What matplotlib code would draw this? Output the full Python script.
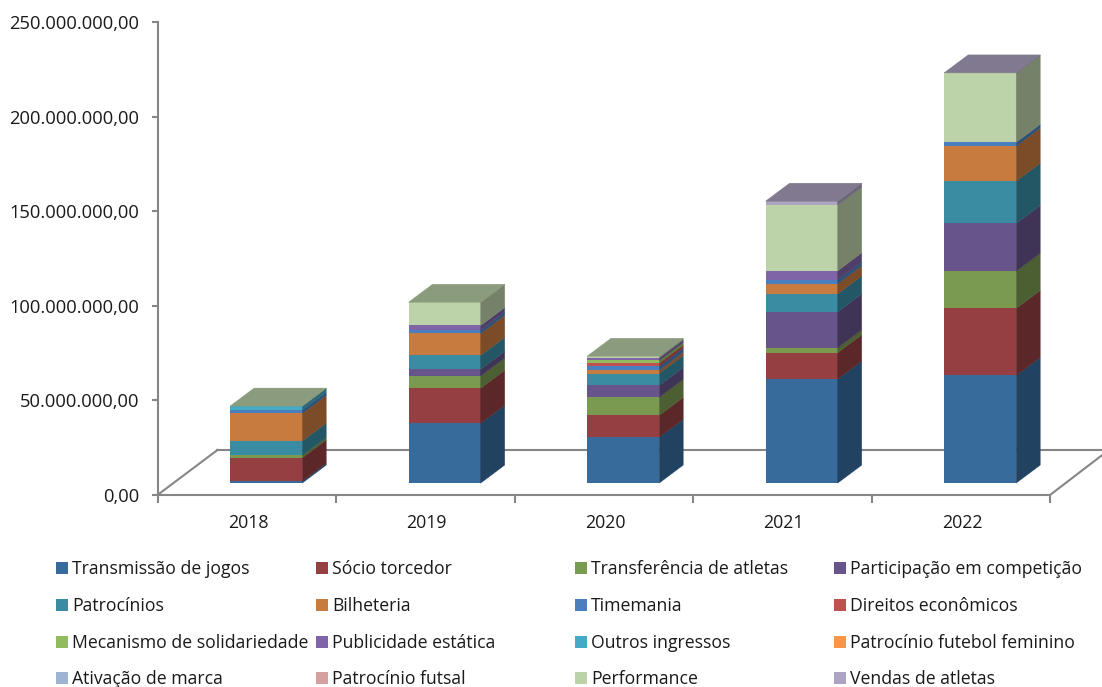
import numpy as np
import matplotlib
matplotlib.use('Agg')
import matplotlib.pyplot as plt
from matplotlib.patches import Rectangle
from matplotlib.colors import to_rgb
from matplotlib.ticker import FuncFormatter

plt.rcParams['font.family'] = ['Open Sans', 'DejaVu Sans']

years = ['2018', '2019', '2020', '2021', '2022']

# Values in millions of reais
transmissao = [1.0, 31.6, 24.2, 55.0, 56.9]
socio = [12.3, 18.5, 11.6, 13.9, 35.4]
transferencia = [1.3, 6.5, 9.5, 2.6, 19.7]
participacao = [0, 3.5, 6.3, 19.0, 25.2]
patrocinios = [7.6, 7.4, 6.3, 9.5, 22.4]
bilheteria = [14.6, 11.6, 1.7, 5.3, 18.5]
timemania = [1.7, 1.7, 2.1, 2.0, 2.0]
direitos = [0, 0, 1.7, 0, 0]
mecanismo = [0, 0, 1.4, 0, 0]
publicidade = [0, 2.5, 1.4, 4.9, 0]
outros = [2.1, 0, 0, 0, 0]
feminino = [0, 0, 0, 0, 0]
ativacao = [0, 0, 0, 0, 0]
futsal = [0, 0, 0, 0, 0]
performance = [0.1, 12.3, 0.85, 34.7, 36.6]
vendas = [0, 0, 0, 2.1, 0.1]

series = [transmissao, socio, transferencia, participacao,
          patrocinios, bilheteria, timemania, direitos,
          mecanismo, publicidade, outros, feminino,
          ativacao, futsal, performance, vendas]
names = ['Transmissão de jogos', 'Sócio torcedor', 'Transferência de atletas', 'Participação em competição',
         'Patrocínios', 'Bilheteria', 'Timemania', 'Direitos econômicos',
         'Mecanismo de solidariedade', 'Publicidade estática', 'Outros ingressos', 'Patrocínio futebol feminino',
         'Ativação de marca', 'Patrocínio futsal', 'Performance', 'Vendas de atletas']
colors = ['#376b9c', '#953f42', '#7a9a50', '#67548a',
          '#3a8ca3', '#c77b3f', '#4a7fbf', '#be5250',
          '#92bb60', '#7f65a8', '#45aac5', '#f79646',
          '#9fb4d3', '#d5a0a0', '#bcd2a9', '#ada3c2']
axis_color = '#868686'
text_color = '#1a1a1a'

W, H = 1102, 687
fig = plt.figure(figsize=(W / 100, H / 100), dpi=100)
ax = fig.add_axes([157.5 / W, 1 - 495 / H, 892.5 / W, 473 / H])
ax.set_xlim(0, 5)
ax.set_ylim(0, 250e6)

# 3D look: bars sit lifted off the floor and have a depth offset
bar_left = 0.4066
bar_width = 0.404
depth_x = 0.1345
depth_y = 9.5e6
base = 6.3e6
floor_x = 0.336
floor_y = 23.8e6

# Floor
ax.plot([floor_x, 5.3], [floor_y, floor_y], color=axis_color, lw=1.5, clip_on=False, zorder=1)
ax.plot([0, floor_x], [0, floor_y], color=axis_color, lw=1.5, clip_on=False, zorder=1)
ax.plot([5, 5.291], [0, 21e6], color=axis_color, lw=1.5, clip_on=False, zorder=1)

for i in range(len(years)):
    x0 = i + bar_left
    x1 = x0 + bar_width
    bottom = base
    top_color = None
    for vals, c in zip(series, colors):
        v = vals[i] * 1e6
        if v == 0:
            continue
        rgb = np.array(to_rgb(c))
        ax.bar(x0, v, bar_width, bottom=bottom, align='edge', color=c, linewidth=0, zorder=3)
        ax.fill([x1, x1 + depth_x, x1 + depth_x, x1],
                [bottom, bottom + depth_y, bottom + v + depth_y, bottom + v],
                color=rgb * 0.62, linewidth=0.3, zorder=3)
        bottom += v
        top_color = rgb * 0.74
    ax.fill([x0, x1, x1 + depth_x, x0 + depth_x],
            [bottom, bottom, bottom + depth_y, bottom + depth_y],
            color=top_color, linewidth=0.3, zorder=3)

for s in ['top', 'right']:
    ax.spines[s].set_visible(False)
for s in ['left', 'bottom']:
    ax.spines[s].set_color(axis_color)
    ax.spines[s].set_linewidth(1.5)

ax.set_yticks(np.arange(0, 250e6 + 1, 50e6))
ax.yaxis.set_major_formatter(FuncFormatter(
    lambda v, p: f'{v:,.2f}'.replace(',', 'X').replace('.', ',').replace('X', '.')))
ax.set_xticks(range(6))
ax.set_xticklabels([])
ax.set_xticks(np.arange(5) + 0.507, labels=years, minor=True)
ax.tick_params(axis='x', which='major', length=5.5, width=1.5, color=axis_color)
ax.tick_params(axis='x', which='minor', length=0, pad=14, labelsize=12.8, labelcolor=text_color)
ax.tick_params(axis='y', length=4, width=1.5, color=axis_color, pad=9, labelsize=13.2, labelcolor=text_color)

# Legend: four even columns, filled row by row
col_x = [56, 316, 575, 834]
row_y = [568, 605, 642, 678]
for k, (name, c) in enumerate(zip(names, colors)):
    x = col_x[k % 4]
    y = row_y[k // 4]
    fig.add_artist(Rectangle((x / W, 1 - (y + 6) / H), 12 / W, 12 / H, color=c,
                             linewidth=0, transform=fig.transFigure))
    fig.text((x + 16) / W, 1 - (y + 1) / H, name, va='center', ha='left', fontsize=12.7, color=text_color)

fig.savefig('out.png', dpi=100)
